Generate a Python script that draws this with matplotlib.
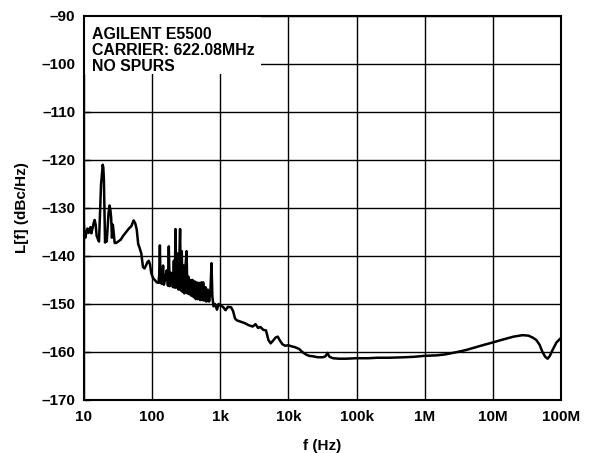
import numpy as np
import matplotlib.pyplot as plt
from matplotlib import font_manager
from matplotlib.patches import Rectangle

# offset frequency (Hz) and phase noise (dBc/Hz)
freq = [10, 10.3, 10.6, 11, 11.4, 11.8, 12.2, 12.6, 13, 13.5, 14, 14.5, 15, 15.5, 16.2, 16.8,
        17.4, 18, 18.5, 19, 19.4, 19.8, 20.2, 20.6, 21.2, 21.8, 22.5, 23.2, 24, 24.6, 25.3, 26,
        26.8, 27.5, 28.5, 30, 32, 35, 38, 42, 46, 50, 54, 57, 60, 63, 66, 70, 74, 78, 82, 86, 90,
        94, 98, 104, 110, 118, 125,
        128, 131, 134, 140, 146, 150, 158, 165, 172, 177, 182, 190, 197, 203, 210, 216, 222, 228,
        236, 244, 252, 259, 266, 274, 282, 292, 300, 310, 322, 332, 342, 355, 368, 380, 395, 410,
        425, 440, 455, 470, 490, 510, 530, 550, 564, 585, 610, 630, 660, 690, 720, 748, 770, 800,
        840, 900, 950,
        1000, 1100, 1200, 1300, 1450, 1550, 1650, 1750, 2000, 2300, 2600, 3000, 3300, 3600, 3900,
        4300, 4700, 5100, 5500, 6000, 6500, 7000, 7500, 8200, 9000,
        10e3, 11e3, 12.5e3, 14.5e3, 16e3, 18e3, 20e3, 23e3, 27e3, 32e3, 35e3, 37.5e3, 40e3, 45e3,
        55e3, 70e3,
        100e3, 150e3, 200e3, 300e3, 500e3, 700e3,
        1e6, 1.5e6, 2e6, 3e6, 4e6, 5e6, 7e6,
        10e6, 14e6, 20e6, 27e6, 33e6, 38e6, 43e6, 48e6, 53e6, 58e6, 63e6, 68e6, 75e6, 85e6, 100e6]
noise = [-132.9, -135.5, -136.2, -135.0, -134.3, -135.2, -134.5, -134.0, -135.3, -134.2, -133.2,
         -132.5, -133.5, -135.8, -136.5, -137.0, -131.0, -125.0, -123.2, -121.0, -121.5, -124.0,
         -131.0, -137.2, -135.5, -137.0, -134.0, -131.0, -129.5, -130.3, -132.0, -136.2, -133.5,
         -135.0, -137.3, -137.3, -137.0, -136.6, -135.8, -135.0, -134.3, -133.8, -132.6, -133.2,
         -134.5, -137.5, -138.3, -139.5, -142.3, -142.6, -142.0, -141.3, -141.0, -141.8, -143.6,
         -144.6, -145.0, -145.5, -145.6,
         -144.0, -137.8, -145.6, -145.8, -142.0, -146.0, -144.5, -143.0, -146.2, -138.0, -146.3,
         -143.5, -144.0, -146.5, -141.0, -146.6, -134.4, -146.6, -139.5, -147.0, -141.0, -134.4,
         -147.2, -139.0, -147.5, -142.0, -147.8, -142.5, -139.0, -147.8, -144.3, -148.0, -145.0,
         -148.3, -145.0, -148.6, -145.3, -149.0, -145.5, -149.0, -145.6, -149.2, -145.5, -149.2,
         -145.5, -149.3, -146.5, -149.5, -147.0, -149.5, -147.5, -141.5, -148.5, -150.5, -150.0,
         -151.2, -150.0,
         -150.3, -150.6, -151.3, -150.6, -150.7, -151.5, -153.0, -153.4, -153.7, -154.0, -154.4,
         -154.7, -154.2, -155.0, -154.8, -155.4, -155.5, -157.5, -158.2, -157.6, -157.0, -156.8,
         -157.6, -158.4, -158.7,
         -158.6, -158.8, -159.0, -159.4, -160.0, -160.5, -160.8, -160.9, -161.1, -161.1, -160.9,
         -160.2, -161.0, -161.3, -161.4, -161.4,
         -161.3, -161.3, -161.2, -161.2, -161.1, -161.0,
         -160.8, -160.7, -160.5, -160.0, -159.6, -159.2, -158.6,
         -158.0, -157.4, -156.8, -156.5, -156.6, -157.0, -157.5, -158.5, -160.0, -161.0, -161.4,
         -160.8, -159.5, -158.0, -157.0]

xticks = [10, 100, 1e3, 1e4, 1e5, 1e6, 1e7, 1e8]
xlabels = ['10', '100', '1k', '10k', '100k', '1M', '10M', '100M']
yticks = np.arange(-170, -89, 10)

# pick a bold sans face that is really installed
bold_file = None
for fam in ['Liberation Sans', 'Arimo', 'Roboto', 'Noto Sans', 'DejaVu Sans']:
    for f in font_manager.fontManager.ttflist:
        if f.name == fam and f.weight in (700, 'bold') and f.style == 'normal':
            bold_file = f.fname
            break
    if bold_file:
        break
fp = font_manager.FontProperties(fname=bold_file, size=11)
fp_box = font_manager.FontProperties(fname=bold_file, size=11.4)

fig = plt.figure(figsize=(5.89, 4.53), dpi=100)
ax = fig.add_axes([0.142, 0.117, 0.811, 0.848])

ax.semilogx(freq, noise, color='black', linewidth=1.8, zorder=3)

ax.set_xlim(10, 1e8)
ax.set_ylim(-170, -90)
ax.set_xticks(xticks)
ax.set_xticklabels(xlabels, fontproperties=fp)
ax.minorticks_off()
ax.set_yticks(yticks)
ax.set_yticklabels(['\u2013%d' % abs(v) for v in yticks], fontproperties=fp)
ax.tick_params(axis='x', length=0, pad=7)
ax.tick_params(axis='y', direction='in', length=4, width=1, pad=6)
ax.grid(True, color='black', linewidth=1.0, zorder=1)
for s in ax.spines.values():
    s.set_linewidth(1.5)

ax.set_xlabel('f (Hz)', fontproperties=fp, labelpad=11)
ax.set_ylabel('L[f] (dBc/Hz)', fontproperties=fp, labelpad=9)

# white label area hiding the grid in the upper-left corner
ax.add_patch(Rectangle((0, 0.849), 0.371, 0.151, transform=ax.transAxes,
                       facecolor='white', edgecolor='none', zorder=2))
ax.text(0.0176, 0.972, 'AGILENT E5500\nCARRIER: 622.08MHz\nNO SPURS', transform=ax.transAxes,
        ha='left', va='top', fontproperties=fp_box, linespacing=1.12, zorder=5)

fig.savefig('out.png', dpi=100)
